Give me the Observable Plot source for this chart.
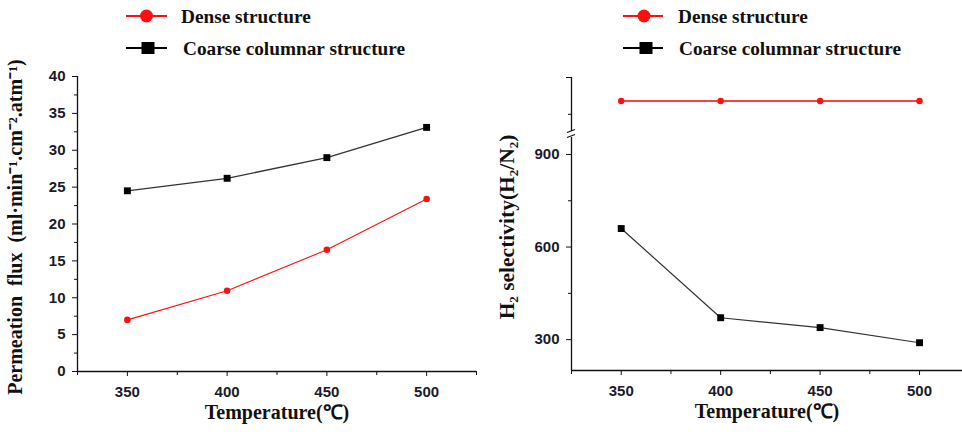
<!DOCTYPE html>
<html><head><meta charset="utf-8">
<script src="https://cdn.jsdelivr.net/npm/d3@7"></script>
<script src="https://cdn.jsdelivr.net/npm/@observablehq/plot@0.6"></script>
<style>
body{margin:0;background:#fff;}
#root{position:relative;width:962px;height:432px;overflow:hidden;background:#fff;}
#root > .layer{position:absolute;top:0;}
#root svg{max-width:none !important;}
</style></head><body><div id="root"></div>
<script>
// ---- data ----
const temps = [350, 400, 450, 500];
const fluxDense = [7.0, 10.95, 16.5, 23.4];
const fluxCoarse = [24.5, 26.2, 29.0, 33.1];
const selDense = [1104, 1104, 1104, 1104];
const selCoarse = [660, 371, 339, 290];
const seriesNames = ["Dense structure", "Coarse columnar structure"];
const tempTicks = [350, 400, 450, 500];
const tempMinor = [325, 375, 425, 475, 525];
const fluxTicks = [0, 5, 10, 15, 20, 25, 30, 35, 40];
const fluxMinor = [2.5, 7.5, 12.5, 17.5, 22.5, 27.5, 32.5, 37.5];
const selTicks = [300, 600, 900];
const selMinor = [450, 750];
const selUpperTicks = [1200];
const selUpperMinor = [1050];
const xLabel = "Temperature(\u2103)";
const fluxLabel = "Permeation  flux  (ml\u00B7min\u207B\u00B9.cm\u207B\u00B2.atm\u207B\u00B9)";
const selLabel = "H\u2082 selectivity(H\u2082/N\u2082)";

const RED = "#ff1010", BLACK = "#111";
const serif = "'Liberation Serif','Times New Roman',serif";
const tickColor = "#1a1a2a";

const toRows = (vals) => temps.map((t, i) => ({t, v: vals[i]}));
const root = document.getElementById("root");
function place(el, left, top) {
  const d = document.createElement("div");
  d.className = "layer"; d.style.left = left + "px"; d.style.top = top + "px";
  d.appendChild(el); root.appendChild(d);
}
const baseStyle = {background: "transparent", fontFamily: "'Liberation Sans',Arial,sans-serif", fontSize: "15px", fontWeight: "bold", color: tickColor, overflow: "visible"};
const labelOpts = {fontFamily: serif, fontWeight: "bold", fill: "#111", textAnchor: "middle", lineAnchor: "middle"};

// ---- left panel ----
const left = Plot.plot({
  width: 480, height: 432, marginLeft: 77, marginTop: 76, marginBottom: 61, marginRight: 4,
  style: baseStyle,
  x: {domain: [325, 525]}, y: {domain: [0, 40]},
  marks: [
    Plot.axisY({ticks: fluxTicks, tickSize: 5, tickPadding: 7, label: null, stroke: BLACK}),
    Plot.axisY({ticks: fluxMinor, tickSize: 3, text: null, label: null, stroke: BLACK}),
    Plot.axisX({ticks: tempTicks, tickSize: 5, tickPadding: 10, label: null, stroke: BLACK}),
    Plot.axisX({ticks: tempMinor, tickSize: 4, text: null, label: null, stroke: BLACK}),
    Plot.ruleX([325], {stroke: BLACK, strokeWidth: 1.3}),
    Plot.ruleY([0], {stroke: BLACK, strokeWidth: 1.3}),
    Plot.line(toRows(fluxCoarse), {x: "t", y: "v", stroke: "#333", strokeWidth: 1.3}),
    Plot.dot(toRows(fluxCoarse), {x: "t", y: "v", symbol: "square", r: 3.9, fill: "#000"}),
    Plot.line(toRows(fluxDense), {x: "t", y: "v", stroke: RED, strokeWidth: 1.1}),
    Plot.dot(toRows(fluxDense), {x: "t", y: "v", r: 3.3, fill: RED}),
    Plot.text([fluxLabel], {text: d => d, frameAnchor: "left", rotate: -90, dx: -62, dy: 3, fontSize: 20, ...labelOpts}),
    Plot.text([xLabel], {text: d => d, frameAnchor: "bottom", dy: 41, fontSize: 20, ...labelOpts})
  ]
});
place(left, 0, 0);

// ---- right panel, lower segment ----
const rightLow = Plot.plot({
  width: 482, height: 432, marginLeft: 91, marginTop: 137, marginBottom: 62, marginRight: 0,
  style: baseStyle,
  x: {domain: [325, 521.6]}, y: {domain: [200, 955]},
  marks: [
    Plot.axisY({ticks: selTicks, tickSize: 5, tickPadding: 7, label: null, stroke: BLACK}),
    Plot.axisY({ticks: selMinor, tickSize: 3, text: null, label: null, stroke: BLACK}),
    Plot.axisX({ticks: tempTicks, tickSize: 5, tickPadding: 10, label: null, stroke: BLACK}),
    Plot.axisX({ticks: tempMinor.filter(t => t <= 521.6), tickSize: 4, text: null, label: null, stroke: BLACK}),
    Plot.ruleX([325], {stroke: BLACK, strokeWidth: 1.3}),
    Plot.ruleY([200], {stroke: BLACK, strokeWidth: 1.3}),
    Plot.line(toRows(selCoarse), {x: "t", y: "v", stroke: "#333", strokeWidth: 1.2}),
    Plot.dot(toRows(selCoarse), {x: "t", y: "v", symbol: "square", r: 3.9, fill: "#000"}),
    Plot.text([selLabel], {text: d => d, frameAnchor: "left", rotate: -90, dx: -64, dy: -27, fontSize: 21.5, ...labelOpts}),
    Plot.text([xLabel], {text: d => d, frameAnchor: "bottom", dy: 41, fontSize: 20, ...labelOpts})
  ]
});
place(rightLow, 480, 0);

// ---- right panel, upper segment (above axis break) ----
const breakMark = (index, scales) => {
  const x0 = scales.x(325), y0 = scales.y(980);
  const g = d3.create("svg:g").attr("stroke", BLACK).attr("stroke-width", 1.2).attr("fill", "none");
  g.append("line").attr("x1", x0 - 4).attr("y1", y0 + 1.5).attr("x2", x0 + 4).attr("y2", y0 - 1.5);
  g.append("line").attr("x1", x0 - 4).attr("y1", y0 + 6.5).attr("x2", x0 + 4).attr("y2", y0 + 3.5);
  return g.node();
};
const rightUp = Plot.plot({
  width: 482, height: 131, marginLeft: 91, marginTop: 77, marginBottom: 0, marginRight: 0,
  style: baseStyle,
  x: {domain: [325, 521.6], axis: null}, y: {domain: [980, 1200]},
  marks: [
    Plot.axisY({ticks: selUpperTicks, tickSize: 5, text: null, label: null, stroke: BLACK}),
    Plot.axisY({ticks: selUpperMinor, tickSize: 3, text: null, label: null, stroke: BLACK}),
    Plot.ruleX([325], {stroke: BLACK, strokeWidth: 1.3}),
    breakMark,
    Plot.line(toRows(selDense), {x: "t", y: "v", stroke: "#ff4040", strokeWidth: 2}),
    Plot.dot(toRows(selDense), {x: "t", y: "v", r: 3.2, fill: RED})
  ]
});
place(rightUp, 480, 0);

// ---- legends ----
function legend(x0, x1, cx, y, kind, color, label, tx) {
  const s = d3.create("svg").attr("width", 962).attr("height", 432)
    .style("position", "absolute").style("left", 0).style("top", 0).style("overflow", "visible");
  s.append("line").attr("x1", x0).attr("x2", x1).attr("y1", y).attr("y2", y).attr("stroke", color).attr("stroke-width", 2.2);
  if (kind === "circle") s.append("circle").attr("cx", cx).attr("cy", y).attr("r", 6.5).attr("fill", color);
  else s.append("rect").attr("x", cx - 6.5).attr("y", y - 6).attr("width", 13).attr("height", 12).attr("fill", color);
  s.append("text").attr("x", tx).attr("y", y).attr("dy", "0.35em")
    .attr("font-family", serif).attr("font-weight", "bold").attr("font-size", 19.3).attr("fill", "#111").text(label);
  root.appendChild(s.node());
}
legend(126, 167, 146.5, 16, "circle", RED, seriesNames[0], 181);
legend(126, 167, 148, 48, "square", "#000", seriesNames[1], 183);
legend(623, 663, 644, 16, "circle", RED, seriesNames[0], 678);
legend(623, 663, 646, 48, "square", "#000", seriesNames[1], 679);
</script></body></html>
